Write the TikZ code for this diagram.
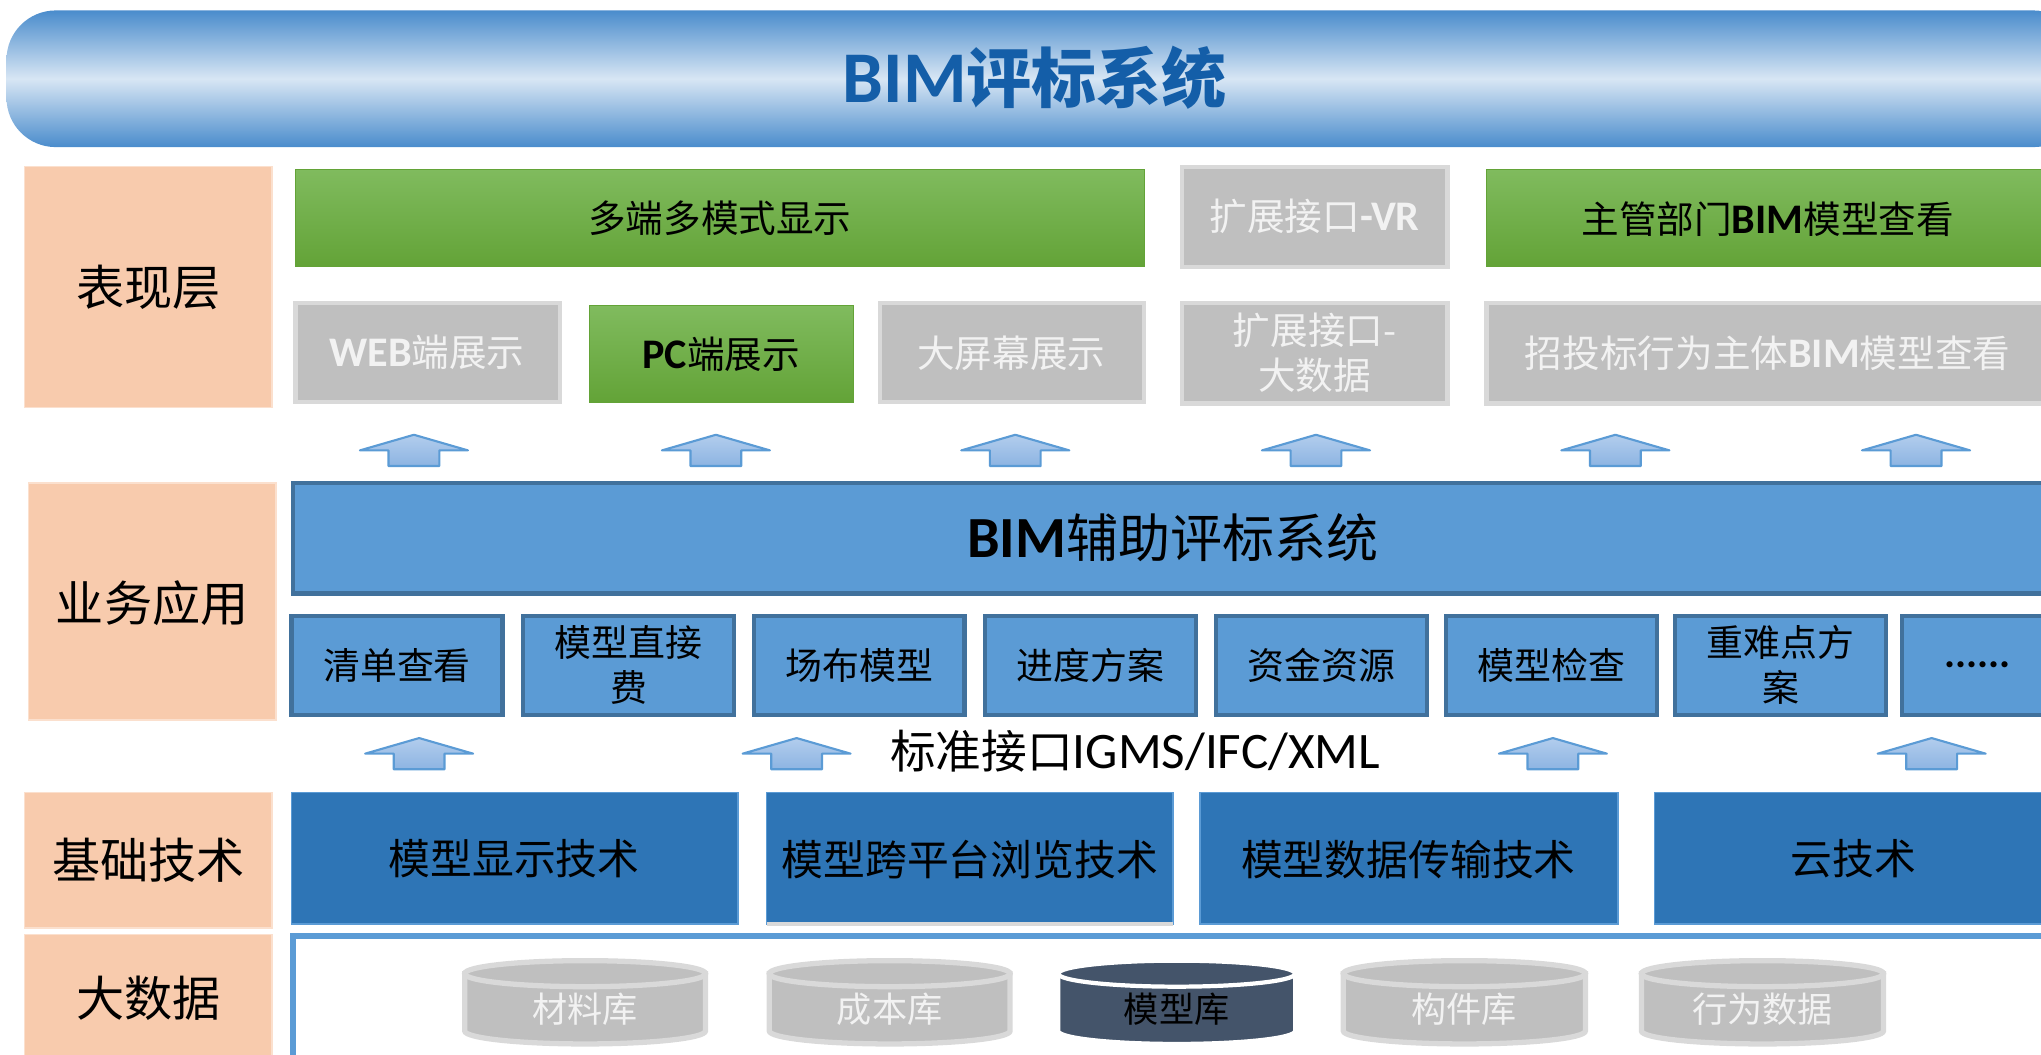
\documentclass[tikz,border=0pt]{standalone}
\usepackage{fontspec}
\setmainfont{Noto Sans CJK SC}
\newfontfamily\lat[Scale=1.12]{Carlito}
\usetikzlibrary{shapes}

\definecolor{peach}{RGB}{248,203,173}
\definecolor{grnA}{RGB}{128,187,94}
\definecolor{grnB}{RGB}{99,163,55}
\definecolor{grayfill}{RGB}{191,191,191}
\definecolor{grayline}{RGB}{217,217,217}
\definecolor{graytext}{RGB}{242,242,242}
\definecolor{midblue}{RGB}{91,155,213}
\definecolor{edgeblue}{RGB}{65,113,156}
\definecolor{deepblue}{RGB}{46,117,182}
\definecolor{barblue}{RGB}{74,140,204}
\definecolor{barlight}{RGB}{216,230,244}
\definecolor{titleblue}{RGB}{20,94,168}
\definecolor{arrowA}{RGB}{141,180,226}
\definecolor{arrowB}{RGB}{178,205,237}
\definecolor{slate}{RGB}{68,84,106}

\begin{document}
\begin{tikzpicture}[x=0.013017cm, y=-0.013017cm,
    sidebox/.style={fill=peach, draw=peach!60, line width=0.4pt},
    sidetext/.style={font=\fontsize{13.7}{16}\selectfont},
    grnbox/.style={top color=grnA, bottom color=grnB, draw=grnB, line width=0.3pt},
    grybox/.style={fill=grayfill, draw=grayline, line width=1.2pt},
    toptext/.style={font=\fontsize{10.7}{13}\selectfont, align=center},
    bizbox/.style={fill=midblue, draw=edgeblue, line width=1.2pt},
    biztext/.style={font=\fontsize{10.5}{12.8}\selectfont, align=center},
    techbox/.style={fill=deepblue, draw=midblue, line width=0.4pt},
    techtext/.style={font=\fontsize{11.9}{14}\selectfont},
    uparr/.style={top color=arrowB, bottom color=arrowA, draw=midblue, line width=0.6pt, line join=round},
    cylgray/.style={fill=grayfill, draw=grayline, line width=1.5pt},
    cyldark/.style={fill=slate, draw=white, line width=1.2pt},
    cyltext/.style={font=\fontsize{10}{12}\selectfont}]
  \useasboundingbox (0,0) rectangle (1568,810);
  \clip (0,0) rectangle (1568,810);

  % title bar
  \shade[top color=barblue, bottom color=barblue, middle color=barlight, rounded corners=14] (5,8) rectangle (1600,113);
  \node[font=\fontsize{18.5}{22}\selectfont\bfseries, text=titleblue] (title) at (795,60) {{\lat BIM}评标系统};

  % layer labels
  \draw[sidebox] (19,128) rectangle (209,313);
  \node[sidetext] (lbShow) at (114,221) {表现层};
  \draw[sidebox] (22,371) rectangle (212,553);
  \node[sidetext] (lbApp) at (117,463) {业务应用};
  \draw[sidebox] (19,609) rectangle (209,713);
  \node[sidetext] (lbTech) at (114,661) {基础技术};
  \draw[sidebox] (19,718) rectangle (209,815);
  \node[sidetext] (lbData) at (114,767) {大数据};

  % presentation layer
  \draw[grnbox] (227,130) rectangle (879,205);
  \node[toptext] (multiView) at (553,168) {多端多模式显示};
  \draw[grybox] (908,128) rectangle (1112,205);
  \node[toptext, text=graytext] (extVR) at (1010,166) {扩展接口{\lat\bfseries -VR}};
  \draw[grnbox] (1142,130) rectangle (1600,205);
  \node[toptext] (govView) at (1358,168) {主管部门{\lat\bfseries BIM}模型查看};

  \draw[grybox] (227,233) rectangle (430,309);
  \node[toptext, text=graytext] (webShow) at (328,271) {{\lat\bfseries WEB}端展示};
  \draw[grnbox] (453,235) rectangle (656,309);
  \node[toptext] (pcShow) at (554,272) {{\lat\bfseries PC}端展示};
  \draw[grybox] (676,233) rectangle (879,309);
  \node[toptext, text=graytext] (bigScreen) at (777,271) {大屏幕展示};
  \draw[grybox] (908,233) rectangle (1112,310);
  \node[toptext, text=graytext] (extData) at (1010,271) {扩展接口-\\大数据};
  \draw[grybox] (1142,233) rectangle (1600,310);
  \node[toptext, text=graytext] (bidView) at (1358,271) {招投标行为主体{\lat\bfseries BIM}模型查看};

  % arrows up
  \foreach \ax in {318,550,780,1011,1241,1472}
    \draw[uparr] (\ax-19.5,358) -- (\ax-19.5,346) -- (\ax-41.5,346) -- (\ax,334) -- (\ax+41.5,346) -- (\ax+19.5,346) -- (\ax+19.5,358) -- cycle;
  \foreach \ax in {322,612,1193,1484}
    \draw[uparr] (\ax-19.5,591) -- (\ax-19.5,579) -- (\ax-41.5,579) -- (\ax,567) -- (\ax+41.5,579) -- (\ax+19.5,579) -- (\ax+19.5,591) -- cycle;

  % business layer
  \draw[bizbox] (225,371) rectangle (1600,456);
  \node[font=\fontsize{14.8}{17}\selectfont] (bimSys) at (901,413) {{\lat\bfseries BIM}辅助评标系统};
  \foreach \bx/\bn/\bt in {224/bList/清单查看, 402/bCost/{模型直接\\费}, 579/bSite/场布模型, 757/bPlan/进度方案,
      934/bFund/资金资源, 1111/bCheck/模型检查, 1287/bHard/{重难点方\\案}}{
    \draw[bizbox] (\bx,473) rectangle ++(162,76);
    \node[biztext] (\bn) at (\bx+81,511) {\bt};
  }
  \draw[bizbox] (1461,473) rectangle ++(162,76);
  \node[biztext] (bMore) at (1519,511) {\lat\bfseries ......};
  \node[font=\fontsize{13}{15}\selectfont] (stdIf) at (872,577) {标准接口{\lat IGMS/IFC/XML}};

  % base technology
  \draw[techbox] (224,609) rectangle (567,710);
  \node[techtext] (tDisp) at (395,660) {模型显示技术};
  \draw[techbox] (589,609) rectangle (901,710);
  \draw[grayline, line width=1pt] (589,710) -- (901,710);
  \node[techtext] (tCross) at (745,660) {模型跨平台浏览技术};
  \draw[techbox] (922,609) rectangle (1243,710);
  \node[techtext] (tTrans) at (1082,660) {模型数据传输技术};
  \draw[techbox] (1271,609) rectangle (1600,710);
  \node[techtext] (tCloud) at (1424,660) {云技术};

  % big data
  \draw[midblue, line width=1.5pt] (225,719) rectangle (1600,830);
  \foreach \cl/\cr/\cs/\cn/\ct/\cc in {357/542/cylgray/dMat/材料库/graytext, 591/776/cylgray/dCost/成本库/graytext,
      813/995/cyldark/dModel/模型库/black, 1032/1218/cylgray/dPart/构件库/graytext, 1261/1447/cylgray/dAct/行为数据/graytext}{
    \draw[\cs] (\cl,748) -- (\cl,792) arc[start angle=180, end angle=0, x radius={(\cr-\cl)/2}, y radius=10] -- (\cr,748) -- cycle;
    \draw[\cs] ({(\cl+\cr)/2},748) ellipse[x radius={(\cr-\cl)/2}, y radius=10];
    \node[cyltext, text=\cc] (\cn) at ({(\cl+\cr)/2},775) {\ct};
  }
\end{tikzpicture}
\end{document}
